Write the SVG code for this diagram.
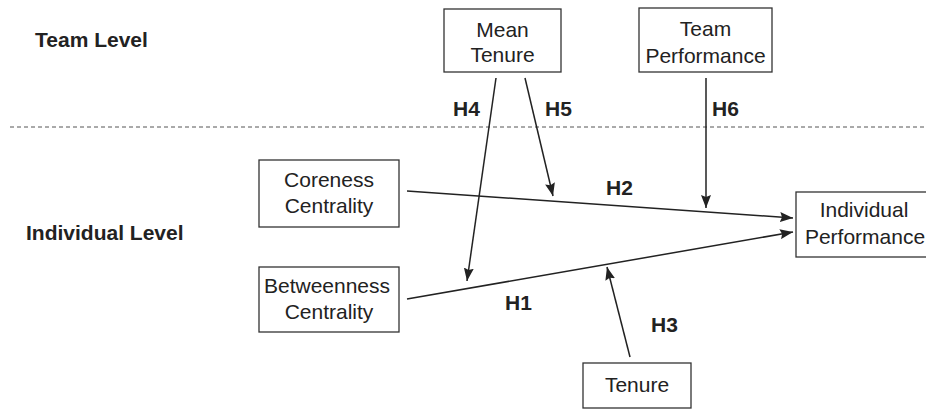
<svg xmlns="http://www.w3.org/2000/svg" width="926" height="411" viewBox="0 0 926 411">
<style>
.box{fill:#fff;stroke:#333;stroke-width:1.3}
.t{font-family:"Liberation Sans",Arial,sans-serif;font-size:21px;fill:#222;text-anchor:middle}
.b{font-family:"Liberation Sans",Arial,sans-serif;font-size:21px;font-weight:bold;fill:#222}
.c{stroke:#222;stroke-width:1.5;fill:none;marker-end:url(#ah)}
</style>
<defs>
<marker id="ah" viewBox="0 0 13 10" refX="13" refY="5" markerWidth="13" markerHeight="10" markerUnits="userSpaceOnUse" orient="auto">
<path d="M0,0 L13,5 L0,10 L2,5 z" fill="#222"/>
</marker>
</defs>
<text class="b" x="35" y="47">Team Level</text>
<text class="b" x="26" y="240">Individual Level</text>
<line x1="10" y1="127" x2="926" y2="127" stroke="#555" stroke-width="1" stroke-dasharray="4,3"/>
<g id="mean-tenure"><rect class="box" x="444" y="9" width="117" height="63"/><text class="t" x="502.5" y="37">Mean</text><text class="t" x="502.5" y="62">Tenure</text></g>
<g id="team-performance"><rect class="box" x="639" y="8" width="133" height="64"/><text class="t" x="705.5" y="36">Team</text><text class="t" x="705.5" y="63">Performance</text></g>
<g id="coreness"><rect class="box" x="259" y="160" width="140" height="67"/><text class="t" x="329" y="187">Coreness</text><text class="t" x="329" y="213">Centrality</text></g>
<g id="betweenness"><rect class="box" x="259" y="267" width="140" height="65"/><text class="t" x="327" y="293">Betweenness</text><text class="t" x="329" y="319">Centrality</text></g>
<g id="individual-performance"><rect class="box" x="796" y="192" width="134" height="65"/><text class="t" x="864" y="217">Individual</text><text class="t" x="865" y="244">Performance</text></g>
<g id="tenure"><rect class="box" x="583" y="363" width="108" height="45"/><text class="t" x="637" y="392">Tenure</text></g>
<g id="connectors">
<line class="c" x1="407" y1="191" x2="793" y2="218"/>
<line class="c" x1="407" y1="299" x2="793" y2="232"/>
<line class="c" x1="496" y1="78" x2="467" y2="281"/>
<line class="c" x1="525" y1="78" x2="553" y2="196"/>
<line class="c" x1="706" y1="78" x2="706" y2="208"/>
<line class="c" x1="630" y1="357" x2="607" y2="267"/>
</g>
<g id="labels">
<text class="b" x="453" y="116">H4</text>
<text class="b" x="545" y="116">H5</text>
<text class="b" x="712" y="116">H6</text>
<text class="b" x="606" y="195">H2</text>
<text class="b" x="505" y="310">H1</text>
<text class="b" x="651" y="332">H3</text>
</g>
</svg>
